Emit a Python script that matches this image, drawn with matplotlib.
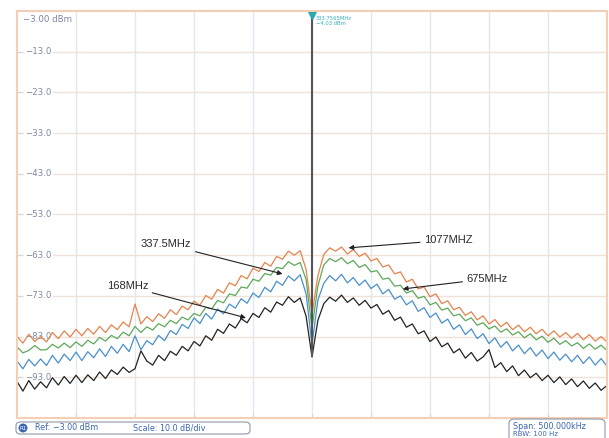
import numpy as np
import matplotlib.pyplot as plt
from matplotlib.patches import FancyBboxPatch

# frequency offset from carrier, kHz (span 500 kHz)
freq = np.arange(-250, 251, 5)

# trace levels in dBm
trace_1077 = [
    -83.0, -84.6, -82.4, -84.2, -83.0, -84.3, -82.0, -83.5, -81.6, -83.1,
    -81.2, -82.8, -81.0, -82.4, -80.5, -82.0, -80.1, -81.3, -79.4, -80.6,
    -75.0, -79.9, -78.1, -79.3, -77.4, -78.5, -76.4, -77.6, -75.5, -76.4,
    -74.3, -75.3, -72.9, -73.8, -71.4, -72.3, -69.8, -70.5, -68.0, -68.8,
    -66.2, -67.0, -64.8, -65.7, -63.3, -64.0, -62.0, -63.0, -61.9, -66.5,
    -77.5,
    -68.0, -62.8, -61.2, -62.0, -61.0, -62.7, -61.6, -63.3, -62.5, -64.4,
    -63.8, -65.9, -65.4, -67.6, -67.1, -69.6, -68.9, -71.3, -70.8, -73.2,
    -72.5, -74.9, -74.2, -76.4, -75.8, -77.8, -76.9, -78.9, -77.9, -79.9,
    -78.8, -80.6, -79.5, -81.3, -80.2, -81.8, -80.7, -82.3, -81.2, -82.8,
    -81.6, -83.1, -82.0, -83.4, -82.2, -83.8, -82.5, -84.1, -83.0, -84.3,
]
trace_675 = [
    -85.5, -87.0, -86.4, -85.2, -86.3, -86.2, -84.9, -85.8, -84.6, -85.7,
    -84.3, -85.4, -83.9, -84.8, -83.2, -84.1, -82.7, -83.5, -81.9, -82.8,
    -80.5, -82.0, -80.6, -81.4, -79.8, -80.6, -79.0, -79.8, -78.2, -78.9,
    -77.3, -77.9, -75.8, -76.2, -74.1, -74.7, -72.5, -72.9, -70.8, -71.1,
    -68.9, -69.4, -67.5, -67.9, -66.0, -66.3, -64.6, -65.5, -64.8, -69.0,
    -81.0,
    -70.5, -65.4, -63.8, -64.6, -63.6, -65.1, -64.3, -66.0, -65.3, -67.1,
    -66.8, -68.9, -68.6, -70.6, -70.4, -72.3, -71.7, -73.6, -73.1, -75.2,
    -74.6, -76.5, -76.0, -77.9, -77.5, -79.1, -78.4, -80.2, -79.6, -81.1,
    -80.4, -81.9, -81.1, -82.6, -81.8, -83.3, -82.3, -83.8, -82.9, -84.4,
    -83.4, -84.9, -84.0, -85.3, -84.5, -85.9, -84.8, -86.1, -85.1, -86.4,
]
trace_337 = [
    -89.0, -90.9, -88.6, -90.2, -88.5, -90.1, -87.6, -89.5, -87.3, -88.9,
    -86.8, -88.9, -86.7, -88.2, -86.0, -87.9, -85.4, -87.1, -84.9, -86.7,
    -82.8, -86.2, -84.0, -85.0, -82.7, -84.0, -81.5, -82.5, -80.0, -81.0,
    -78.4, -79.8, -77.3, -78.7, -76.2, -77.4, -75.0, -76.0, -73.7, -74.8,
    -72.3, -73.4, -70.9, -72.0, -69.4, -70.4, -68.1, -69.3, -67.8, -72.5,
    -85.0,
    -74.0, -69.9, -68.0, -69.3, -67.7, -69.8, -68.5, -70.4, -69.1, -71.2,
    -70.1, -72.5, -71.4, -73.8, -73.0, -75.2, -74.2, -76.8, -75.9, -78.3,
    -77.2, -79.7, -78.7, -81.2, -80.1, -82.5, -81.1, -83.5, -82.3, -84.7,
    -83.3, -85.6, -84.2, -86.5, -85.1, -87.2, -85.7, -87.8, -86.3, -88.4,
    -86.8, -88.8, -87.3, -89.2, -87.6, -89.6, -88.0, -90.0, -88.4, -90.3,
]
trace_168 = [
    -94.0, -96.4, -93.8, -95.9, -94.1, -95.6, -93.1, -94.9, -92.8, -94.5,
    -92.5, -94.3, -92.4, -93.8, -91.7, -93.3, -91.2, -92.3, -90.5, -91.8,
    -90.9, -86.5, -89.0, -90.0, -87.6, -88.9, -86.6, -87.6, -85.4, -86.5,
    -84.2, -85.3, -82.8, -83.9, -81.2, -82.2, -79.9, -80.9, -78.6, -79.6,
    -77.3, -78.3, -75.9, -77.0, -74.5, -75.3, -73.2, -74.6, -73.5, -78.0,
    -88.0,
    -79.0, -74.9, -73.3, -74.3, -72.8, -74.6, -73.5, -75.3, -74.1, -76.0,
    -75.1, -77.5, -76.6, -79.0, -78.2, -80.7, -79.9, -82.3, -81.6, -84.2,
    -83.1, -85.5, -84.6, -87.0, -86.0, -88.3, -86.9, -89.0, -88.0, -86.2,
    -90.6, -89.4, -91.6, -90.2, -92.6, -91.2, -93.1, -92.0, -93.8, -92.5,
    -94.3, -92.9, -94.8, -93.4, -95.3, -93.9, -95.7, -94.4, -96.2, -95.0,
]

carrier_level = -4.03
carrier_floor = -88.0
ref_level = -3.0
y_ticks = [-13.0, -23.0, -33.0, -43.0, -53.0, -63.0, -73.0, -83.0, -93.0]

fig = plt.figure(figsize=(6.09, 4.38), dpi=100)
ax = fig.add_axes([17 / 609, 20 / 438, 590 / 609, 407 / 438])
ax.set_xlim(-250, 250)
ax.set_ylim(-103, -3)
ax.set_axisbelow(True)

# graticule
ax.set_yticks(y_ticks)
ax.set_xticks(np.arange(-200, 201, 50))
ax.xaxis.grid(True, color='#e0e9f0', lw=1.0)
ax.yaxis.grid(True, color='#efe2d8', lw=1.0)
ax.tick_params(labelleft=False, labelbottom=False, direction='in', length=3,
               color='#ccd4de')
for s in ax.spines.values():
    s.set_color('#f2cfb5')
    s.set_linewidth(1.5)

# level labels inside the graticule (under the traces)
lab = dict(color='#7c88a2', fontsize=6.2, va='center', ha='left', zorder=1,
           bbox=dict(fc='white', ec='none', pad=1.2))
for v in y_ticks:
    ax.text(-243, v, f'\u2212{abs(v):.1f}', **lab)
ax.text(-245, ref_level - 0.9, '\u22123.00 dBm', color='#7c88a2', fontsize=6.2,
        va='top', ha='left', zorder=1, bbox=dict(fc='white', ec='none', pad=0.8))

# traces
ax.plot(freq, trace_1077, color='#e5834c', lw=0.9)
ax.plot(freq, trace_675, color='#5ea85a', lw=0.9)
ax.plot(freq, trace_337, color='#4a8fcc', lw=0.9)
ax.plot(freq, trace_168, color='#222222', lw=0.9)

# carrier + marker
ax.vlines(0, carrier_floor, carrier_level, color='#555555', lw=1.5)
ax.plot([0], [carrier_level], marker='v', color='#2aa8b0', ms=6, clip_on=False)
ax.text(3, carrier_level - 0.2, '333.7565MHz\n\u22124.03 dBm', color='#3ab0c0',
        fontsize=3.8, va='top', ha='left', linespacing=1.0)

# annotations
arr = dict(arrowstyle='-|>', color='#222222', lw=0.8, mutation_scale=7,
           shrinkA=1, shrinkB=0)
tf = dict(fontsize=8, family='Liberation Sans', color='#2a2a2a', va='center')
ax.annotate('337.5MHz', xy=(-25, -67.6), xytext=(-145, -60.3), ha='left',
            arrowprops=arr, **tf)
ax.annotate('168MHz', xy=(-56, -78.4), xytext=(-174, -70.6), ha='left',
            arrowprops=arr, **tf)
ax.annotate('1077MHZ', xy=(31, -61.2), xytext=(95, -59.3), ha='left',
            arrowprops=arr, **tf)
ax.annotate('675MHz', xy=(77, -71.3), xytext=(131, -68.8), ha='left',
            arrowprops=arr, **tf)

# status boxes under the screen
fig.add_artist(FancyBboxPatch((16 / 609, 4 / 438), 234 / 609, 12 / 438,
                              boxstyle='round,pad=0,rounding_size=0.008',
                              transform=fig.transFigure, fc='white',
                              ec='#8e98ac', lw=0.8))
fig.text(23 / 609, 10 / 438, 'R1', color='white', fontsize=4, ha='center',
         va='center', bbox=dict(boxstyle='circle,pad=0.15', fc='#3a66b0', ec='none'))
fig.text(35 / 609, 10 / 438, 'Ref: \u22123.00 dBm', color='#3a66b0', fontsize=5.8,
         va='center')
fig.text(133 / 609, 10 / 438, 'Scale: 10.0 dB/div', color='#3a66b0', fontsize=5.8,
         va='center')

fig.add_artist(FancyBboxPatch((509 / 609, -12 / 438), 96 / 609, 31 / 438,
                              boxstyle='round,pad=0,rounding_size=0.01',
                              transform=fig.transFigure, fc='white',
                              ec='#8e98ac', lw=0.8))
fig.text(513 / 609, 11.5 / 438, 'Span: 500.000kHz', color='#3a66b0', fontsize=5.8,
         va='center')
fig.text(513 / 609, 1 / 438, 'RBW: 100 Hz', color='#3a66b0', fontsize=5.0,
         va='bottom')

fig.savefig('out.png', dpi=100)
